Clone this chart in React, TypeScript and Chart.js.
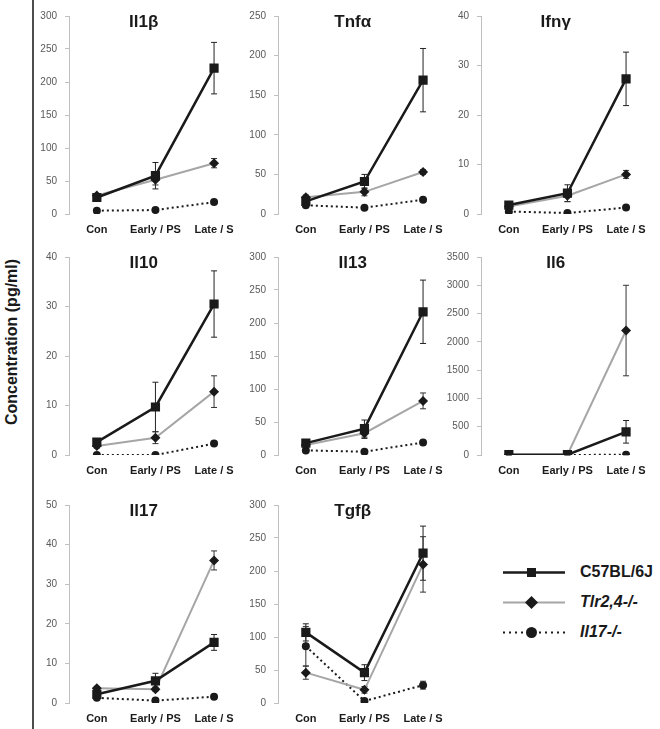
import React, { useEffect, useRef } from "react";
import { Chart, registerables } from "chart.js";

Chart.register(...registerables);

const FONT = '"Liberation Sans", Arial, Helvetica, sans-serif';

// ---------- data ----------
const categories = ["Con", "Early / PS", "Late / S"];
const seriesNames = ["C57BL/6J", "Tlr2,4-/-", "Il17-/-"];

const il1bC57 = [25, 58, 221];
const il1bC57Err = [4, 20, 39];
const il1bTlr = [28, 52, 77];
const il1bTlrErr = [3, 8, 7];
const il1bIl17 = [5, 6, 18];
const il1bIl17Err = [1, 1, 2];

const tnfC57 = [16, 41, 169];
const tnfC57Err = [3, 9, 40];
const tnfTlr = [21, 28, 53];
const tnfTlrErr = [3, 5, 3];
const tnfIl17 = [11, 8, 18];
const tnfIl17Err = [1, 1, 2];

const ifnC57 = [1.8, 4.2, 27.3];
const ifnC57Err = [0.3, 1.7, 5.4];
const ifnTlr = [1.5, 3.7, 8.0];
const ifnTlrErr = [0.3, 1.2, 0.8];
const ifnIl17 = [0.5, 0.2, 1.3];
const ifnIl17Err = [0.1, 0.1, 0.2];

const il10C57 = [2.6, 9.7, 30.5];
const il10C57Err = [0.5, 5.0, 6.7];
const il10Tlr = [1.8, 3.5, 12.8];
const il10TlrErr = [0.4, 1.2, 3.2];
const il10Il17 = [0, 0, 2.3];
const il10Il17Err = [0, 0, 0.3];

const il13C57 = [18, 40, 217];
const il13C57Err = [3, 13, 48];
const il13Tlr = [15, 33, 82];
const il13TlrErr = [3, 8, 12];
const il13Il17 = [7, 5, 19];
const il13Il17Err = [1, 1, 2];

const il6C57 = [5, 5, 410];
const il6C57Err = [2, 2, 200];
const il6Tlr = [5, 5, 2200];
const il6TlrErr = [2, 2, 800];
const il6Il17 = [0, 0, 5];
const il6Il17Err = [0, 0, 1];

const il17C57 = [2.2, 5.6, 15.3];
const il17C57Err = [0.5, 1.9, 2.0];
const il17Tlr = [3.7, 3.5, 36];
const il17TlrErr = [0.5, 0.5, 2.4];
const il17Il17 = [1.3, 0.6, 1.6];
const il17Il17Err = [0.2, 0.1, 0.2];

const tgfC57 = [107, 46, 227];
const tgfC57Err = [13, 12, 41];
const tgfTlr = [46, 20, 210];
const tgfTlrErr = [10, 5, 42];
const tgfIl17 = [86, 3, 27];
const tgfIl17Err = [30, 2, 6];

const panelTitles = ["Il1β", "Tnfα", "Ifnγ", "Il10", "Il13", "Il6", "Il17", "Tgfβ"];
const panelMax = [300, 250, 40, 40, 300, 3500, 50, 300];
const panelStep = [50, 50, 10, 10, 50, 500, 10, 50];
const panelC57 = [il1bC57, tnfC57, ifnC57, il10C57, il13C57, il6C57, il17C57, tgfC57];
const panelC57Err = [il1bC57Err, tnfC57Err, ifnC57Err, il10C57Err, il13C57Err, il6C57Err, il17C57Err, tgfC57Err];
const panelTlr = [il1bTlr, tnfTlr, ifnTlr, il10Tlr, il13Tlr, il6Tlr, il17Tlr, tgfTlr];
const panelTlrErr = [il1bTlrErr, tnfTlrErr, ifnTlrErr, il10TlrErr, il13TlrErr, il6TlrErr, il17TlrErr, tgfTlrErr];
const panelIl17 = [il1bIl17, tnfIl17, ifnIl17, il10Il17, il13Il17, il6Il17, il17Il17, tgfIl17];
const panelIl17Err = [il1bIl17Err, tnfIl17Err, ifnIl17Err, il10Il17Err, il13Il17Err, il6Il17Err, il17Il17Err, tgfIl17Err];

// ---------- layout ----------
const COL_AXIS_X = [69, 278, 481];
const ROW_TOP = [14, 255, 503];
const Y_AXIS_W = 45;
const PAD_TOP = 12;
const PLOT_H = 200;
const X_AXIS_H = 24;
const PLOT_W = 175;

const errorBarPlugin = {
  id: "errorBars",
  beforeDatasetsDraw(chart: any) {
    const ctx = chart.ctx;
    const ys = chart.scales.y;
    chart.data.datasets.forEach((ds: any, di: number) => {
      const errs = ds.errors;
      if (!errs) return;
      const meta = chart.getDatasetMeta(di);
      ctx.save();
      ctx.strokeStyle = ds.errorColor || "#333";
      ctx.lineWidth = 1;
      meta.data.forEach((pt: any, i: number) => {
        const e = errs[i];
        if (!e) return;
        const v = ds.data[i].y;
        const top = ys.getPixelForValue(v + e);
        const bot = ys.getPixelForValue(v - e);
        const x = pt.x;
        ctx.beginPath();
        ctx.moveTo(x, top);
        ctx.lineTo(x, bot);
        ctx.moveTo(x - 3, top);
        ctx.lineTo(x + 3, top);
        ctx.moveTo(x - 3, bot);
        ctx.lineTo(x + 3, bot);
        ctx.stroke();
      });
      ctx.restore();
    });
  },
};

const panelTitlePlugin = {
  id: "panelTitle",
  afterDraw(chart: any, _args: any, opts: any) {
    if (!opts || !opts.text) return;
    const ctx = chart.ctx;
    const x = chart.scales.x.getPixelForValue(0.8);
    const y = chart.chartArea.top + 6;
    ctx.save();
    ctx.font = `bold 17px ${FONT}`;
    ctx.fillStyle = "#1a1a1a";
    ctx.textAlign = "center";
    ctx.textBaseline = "middle";
    ctx.fillText(opts.text, x, y);
    ctx.restore();
  },
};

function Panel({ idx }: { idx: number }) {
  const ref = useRef<HTMLCanvasElement | null>(null);
  const col = idx % 3;
  const row = Math.floor(idx / 3);
  const left = COL_AXIS_X[col] - Y_AXIS_W;
  const top = ROW_TOP[row] - PAD_TOP;
  const width = Y_AXIS_W + PLOT_W;
  const height = PAD_TOP + PLOT_H + X_AXIS_H;

  useEffect(() => {
    if (!ref.current) return;
    const toXY = (arr: number[]) => arr.map((v, i) => ({ x: i, y: v }));
    const chart = new Chart(ref.current, {
      type: "line",
      data: {
        datasets: [
          {
            label: seriesNames[0],
            data: toXY(panelC57[idx]),
            errors: panelC57Err[idx],
            errorColor: "#222",
            borderColor: "#1a1a1a",
            borderWidth: 2.5,
            pointStyle: "rect",
            pointRadius: 6.5,
            pointBackgroundColor: "#1a1a1a",
            pointBorderColor: "#1a1a1a",
            pointBorderWidth: 0,
            tension: 0,
          } as any,
          {
            label: seriesNames[1],
            data: toXY(panelTlr[idx]),
            errors: panelTlrErr[idx],
            errorColor: "#333",
            borderColor: "#a6a6a6",
            borderWidth: 2,
            pointStyle: "rectRot",
            pointRadius: 5,
            pointBackgroundColor: "#1a1a1a",
            pointBorderColor: "#1a1a1a",
            pointBorderWidth: 0,
            tension: 0,
          } as any,
          {
            label: seriesNames[2],
            data: toXY(panelIl17[idx]),
            errors: panelIl17Err[idx],
            errorColor: "#333",
            borderColor: "#1a1a1a",
            borderWidth: 2,
            borderDash: [2, 3],
            pointStyle: "circle",
            pointRadius: 4,
            pointBackgroundColor: "#1a1a1a",
            pointBorderColor: "#1a1a1a",
            pointBorderWidth: 0,
            tension: 0,
          } as any,
        ],
      },
      options: {
        responsive: false,
        animation: false,
        devicePixelRatio: 1,
        layout: { padding: { top: PAD_TOP, left: 0, right: 0, bottom: 0 } },
        plugins: {
          legend: { display: false },
          tooltip: { enabled: false },
          title: { display: false },
          panelTitle: { text: panelTitles[idx] },
        } as any,
        scales: {
          x: {
            type: "linear",
            min: -0.475,
            max: 2.4,
            afterBuildTicks: (scale: any) => {
              scale.ticks = categories.map((_, i) => ({ value: i }));
            },
            afterFit: (scale: any) => {
              scale.height = X_AXIS_H;
            },
            grid: { display: false },
            border: { display: false },
            ticks: {
              autoSkip: false,
              maxRotation: 0,
              padding: 1,
              color: "#1a1a1a",
              font: { family: FONT, size: 11, weight: "bold" },
              callback: (v: any) => categories[v] ?? "",
            },
          },
          y: {
            type: "linear",
            min: 0,
            max: panelMax[idx],
            afterFit: (scale: any) => {
              scale.width = Y_AXIS_W;
            },
            grid: {
              display: true,
              drawOnChartArea: false,
              drawTicks: true,
              tickLength: 4,
              color: "#bfbfbf",
            },
            border: { display: true, color: "#bfbfbf", width: 1 },
            ticks: {
              stepSize: panelStep[idx],
              padding: 8,
              color: "#595959",
              font: { family: FONT, size: 10 },
              callback: (v: any) => String(v),
            },
          },
        },
      } as any,
      plugins: [errorBarPlugin, panelTitlePlugin],
    });
    return () => chart.destroy();
  }, [idx]);

  return (
    <canvas
      ref={ref}
      width={width}
      height={height}
      style={{ position: "absolute", left, top, width, height }}
    />
  );
}

function LegendRow({ y, kind, label, italic }: { y: number; kind: number; label: string; italic: boolean }) {
  const marker =
    kind === 0 ? (
      <rect x={27} y={6} width={9} height={9} fill="#1a1a1a" />
    ) : kind === 1 ? (
      <polygon points="31.5,4 38,10.5 31.5,17 25,10.5" fill="#1a1a1a" />
    ) : (
      <circle cx={31.5} cy={10.5} r={5.5} fill="#1a1a1a" />
    );
  const stroke = kind === 1 ? "#a6a6a6" : "#1a1a1a";
  return (
    <div style={{ position: "absolute", left: 500, top: y - 10.5, height: 21, display: "flex", alignItems: "center" }}>
      <svg width={66} height={21} style={{ display: "block" }}>
        <line
          x1={3}
          y1={10.5}
          x2={65}
          y2={10.5}
          stroke={stroke}
          strokeWidth={kind === 0 ? 2.5 : 2}
          strokeDasharray={kind === 2 ? "2 4" : undefined}
        />
        {marker}
      </svg>
      <span
        style={{
          marginLeft: 14,
          fontFamily: FONT,
          fontWeight: "bold",
          fontStyle: italic ? "italic" : "normal",
          fontSize: 16,
          color: "#1a1a1a",
          whiteSpace: "nowrap",
        }}
      >
        {label}
      </span>
    </div>
  );
}

export default function App() {
  return (
    <div style={{ position: "absolute", left: 0, top: 0, width: 660, height: 729, background: "#fff", overflow: "hidden" }}>
      <div style={{ position: "absolute", left: 32, top: 0, width: 2, height: 729, background: "#4d4d4d" }} />
      <div
        style={{
          position: "absolute",
          left: 12,
          top: 342,
          transform: "translate(-50%, -50%) rotate(-90deg)",
          fontFamily: FONT,
          fontWeight: "bold",
          fontSize: 16,
          color: "#1a1a1a",
          whiteSpace: "nowrap",
        }}
      >
        Concentration (pg/ml)
      </div>
      {panelTitles.map((_, i) => (
        <Panel key={i} idx={i} />
      ))}
      <LegendRow y={572} kind={0} label={seriesNames[0]} italic={false} />
      <LegendRow y={602} kind={1} label={seriesNames[1]} italic={true} />
      <LegendRow y={632} kind={2} label={seriesNames[2]} italic={true} />
    </div>
  );
}
